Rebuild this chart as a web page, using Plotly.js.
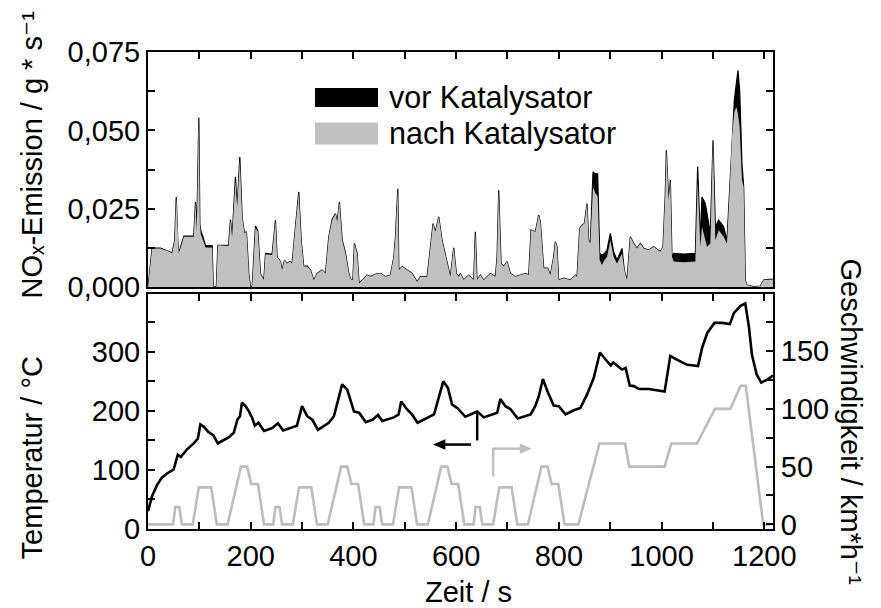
<!DOCTYPE html>
<html><head><meta charset="utf-8">
<script src="https://cdn.plot.ly/plotly-3.0.1.min.js"></script>
<style>html,body{margin:0;padding:0;background:#fff}</style>
</head><body><div id="chart" style="width:881px;height:608px"></div>
<script>
// NOx emission (g/s) before / after catalyst
const noxTime = [0,8,24,40,47,52,55,58,60,66,70,89,92.5,95,99,101,103,106,112,125,127,133,136,157,160.6,163.8,170.3,173.6,178.8,183.3,187.8,191.7,196.3,199.5,202.8,209.3,213.8,219,225.5,228.8,241.7,248.2,251.4,257.9,261.2,265.7,270.9,276.1,280.6,287.1,293.6,298.3,303.3,309.8,316.3,322.8,329.3,339.1,345.6,352,358.6,365,368.3,372.8,378,384.5,391,395.5,398.8,402,407.2,411.1,416.9,426.6,433.1,446.1,453.9,462.3,472.1,478.6,481.8,486.4,488.5,494.8,504.5,514.3,524,530.5,543.5,550,555.1,559.6,566.1,572.6,577.2,582.3,588.8,595.3,600.5,605,608.3,614.8,624.5,634.2,637.4,640.7,647.2,653.7,666.7,676.4,679.7,682.9,687.5,692.6,699.1,705.6,715.4,725.1,734.8,741.3,745.8,754.3,760.7,764,767.2,770.5,778.3,783.4,789.9,793.2,796.4,799.7,809.4,822.4,832.1,835.4,840.6,845.1,849.7,854.8,858.1,861.3,866.5,871.1,875.6,879.5,884,889,893.8,900.3,906.7,913.2,923,927.5,932.7,939.2,945.7,952.2,958.7,965.2,974.9,984.6,997.6,1002.8,1007.3,1009.3,1013.8,1017.1,1020.3,1023.6,1043,1065.8,1070.3,1075.5,1078.7,1085.2,1088.5,1095,1100.2,1104.7,1111.2,1120.9,1127.4,1132.6,1137.2,1141.7,1145.6,1148.8,1152.1,1156.6,1159.9,1163.1,1166.4,1179.4,1192.4,1198.8,1208.6,1217];
const noxNach = [0,0.0124,0.0124,0.0115,0.0108,0.015,0.0288,0.015,0.0108,0.014,0.0161,0.0161,0.0272,0.018,0.0541,0.02,0.0168,0.0155,0.0127,0.0127,0.0002,0.0002,0.0134,0.0132,0.0214,0.0161,0.034,0.0256,0.0405,0.0225,0.0172,0.0177,0.0044,0.0002,0.0002,0.019,0.0177,0.0044,0.0023,0.0105,0.0103,0.0214,0.0097,0.0082,0.0055,0.0087,0.0076,0.0082,0.0076,0.0193,0.03,0.015,0.0066,0.0066,0.0055,0.0023,0.0044,0.0055,0.0044,0.0161,0.0214,0.0235,0.0209,0.0272,0.015,0.0108,0.0044,0.0023,0.0023,0.014,0.0108,0.0012,0.0023,0.0039,0.0034,0.0044,0.0044,0.0034,0.0039,0.0097,0.016,0.0314,0.0055,0.0066,0.0055,0.0044,0.0018,0.0034,0.0034,0.014,0.0203,0.0177,0.0225,0.015,0.0119,0.0087,0.0034,0.0126,0.0044,0.0034,0.0044,0.0023,0.0039,0.0023,0.0177,0.0023,0.0039,0.0023,0.0044,0.0034,0.0097,0.0309,0.0076,0.0066,0.0082,0.0044,0.0034,0.0039,0.0044,0.0039,0.0182,0.0177,0.023,0.0209,0.0129,0.0061,0.0061,0.0039,0.0097,0.0145,0.0129,0.0023,0.0029,0.0023,0.0039,0.0034,0.0188,0.0198,0.0203,0.0267,0.015,0.014,0.032,0.03,0.029,0.0087,0.0071,0.0087,0.0097,0.015,0.0097,0.0076,0.0108,0.0055,0.0023,0.0161,0.014,0.0124,0.014,0.0124,0.0119,0.0129,0.0113,0.0129,0.0299,0.0437,0.0278,0.0342,0.0097,0.0082,0.008,0.0082,0.034,0.0129,0.0193,0.015,0.0129,0.014,0.0469,0.015,0.0182,0.0161,0.014,0.0309,0.0479,0.0559,0.0575,0.0553,0.051,0.0342,0.032,0.0023,0.0007,0.0002,0.0004,0.0023,0.0025,0.0025];
const noxVor = [0,0.0125,0.0125,0.0116,0.011,0.015,0.0288,0.015,0.011,0.0142,0.0163,0.0163,0.0272,0.018,0.0541,0.02,0.018,0.0165,0.0134,0.0132,0.0002,0.0002,0.0134,0.0134,0.0216,0.0161,0.0352,0.0256,0.0415,0.0225,0.0172,0.0177,0.0044,0.0002,0.0002,0.0195,0.018,0.0044,0.0023,0.0108,0.0106,0.0214,0.0097,0.0082,0.0055,0.0087,0.0076,0.0082,0.0076,0.0193,0.0304,0.015,0.0066,0.0068,0.0056,0.0023,0.0044,0.0055,0.0044,0.0161,0.0216,0.0235,0.0209,0.0272,0.0152,0.011,0.0044,0.0023,0.0023,0.014,0.0108,0.0012,0.0023,0.0039,0.0034,0.0044,0.0044,0.0034,0.0039,0.0097,0.016,0.0314,0.0055,0.0066,0.0055,0.0044,0.0018,0.0034,0.0034,0.014,0.0203,0.0177,0.0225,0.015,0.0119,0.0087,0.0034,0.0126,0.0044,0.0034,0.0044,0.0023,0.0039,0.0023,0.0177,0.0023,0.0039,0.0023,0.0044,0.0034,0.0097,0.0309,0.0076,0.0066,0.0082,0.0044,0.0034,0.0039,0.0044,0.0039,0.0182,0.0177,0.023,0.0209,0.0129,0.0061,0.0061,0.0039,0.0097,0.0145,0.0129,0.0023,0.0029,0.0023,0.0039,0.0034,0.0188,0.0198,0.0203,0.0267,0.015,0.014,0.0368,0.0362,0.0362,0.0108,0.0103,0.0108,0.0119,0.0172,0.0113,0.0087,0.0124,0.0055,0.0023,0.0161,0.014,0.0124,0.014,0.0124,0.0119,0.0129,0.0113,0.0129,0.0299,0.0437,0.0278,0.0342,0.0097,0.0108,0.0106,0.0108,0.0384,0.015,0.0288,0.0267,0.0235,0.0172,0.0469,0.0193,0.0214,0.0193,0.015,0.0309,0.049,0.0596,0.0649,0.0691,0.0628,0.0394,0.032,0.0023,0.0007,0.0002,0.0004,0.0023,0.0025,0.0025];

// Exhaust temperature (°C)
const tempTime = [0,8,18,27,37,50,58,64,76,89,97,102,109,118,127,136,144,157,167,174,179,183,190,196,203,208,215,226,242,253,263,277,290,300,310,320,331,352,362,368,378,388,401,411,424,437,448,456,479,488,493,505,514,525,544,557,566,575,584,592,602,618,641,654,680,686,696,706,720,745,754,761,769,778,790,800,813,829,842,855,868,880,891,901,906,913,923,930,938,946,956,975,1006,1017,1027,1050,1071,1079,1089,1103,1118,1133,1141,1154,1163,1170,1176,1185,1194,1206,1217];
const temperature = [30,56,75,87,94,101,126,122,135,145,153,177,173,164,159,145,149,155,163,185,191,214,208,200,188,175,180,166,171,179,167,171,175,208,191,185,168,180,191,211,245,236,199,197,181,185,193,183,189,194,216,202,194,180,188,194,222,250,239,211,205,190,199,189,197,220,208,203,187,194,208,225,254,233,209,208,194,201,205,228,256,299,287,277,282,277,270,273,243,242,237,237,233,293,288,278,276,307,332,349,349,347,366,378,382,343,295,262,248,253,260];

// Vehicle speed (km/h)
const speedTime = [0,49,53,61,66,87,99,123,134,155,181,193,201,214,226,
  244,248,256,261,282,294,318,329,350,376,388,396,409,421,
  439,443,451,456,477,489,513,524,545,571,583,591,604,616,
  634,638,646,651,672,684,708,719,740,766,778,786,799,811,
  838,879,929,937,1006,1019,1069,1104,1134,1154,1164,1198,1217];
const speed = [0,0,15,15,0,0,32,32,0,0,50,50,35,35,0,
  0,15,15,0,0,32,32,0,0,50,50,35,35,0,
  0,15,15,0,0,32,32,0,0,50,50,35,35,0,
  0,15,15,0,0,32,32,0,0,50,50,35,35,0,
  0,70,70,50,50,70,70,100,100,120,120,0,0];

const seriesNames = ['vor Katalysator','nach Katalysator'];

const FONT = 'Liberation Sans, Arial, DejaVu Sans, sans-serif';
const BLACK = '#000000', GREY = '#c0c0c0';
const TICKSIZE = 29;

const traces = [
  {x: noxTime, y: noxVor, type:'scatter', mode:'lines', fill:'tozeroy', fillcolor:BLACK,
   line:{color:BLACK, width:1.2}, xaxis:'x', yaxis:'y', name:seriesNames[0], showlegend:false},
  {x: noxTime, y: noxNach, type:'scatter', mode:'lines', fill:'tozeroy', fillcolor:GREY,
   line:{color:GREY, width:0}, xaxis:'x', yaxis:'y', name:seriesNames[1], showlegend:false},
  {x: tempTime, y: temperature, type:'scatter', mode:'lines', line:{color:BLACK, width:2.6},
   xaxis:'x2', yaxis:'y2', name:'Temperatur', showlegend:false},
  {x: speedTime, y: speed, type:'scatter', mode:'lines', line:{color:'#bdbdbd', width:2.6},
   xaxis:'x2', yaxis:'y3', name:'Geschwindigkeit', showlegend:false}
];

function minor(d){ return {dtick:d, ticks:'inside', ticklen:7, tickwidth:2, tickcolor:BLACK, showgrid:false}; }
const axBase = {showline:true, linecolor:BLACK, linewidth:2, ticks:'inside', ticklen:7, tickwidth:2,
  tickcolor:BLACK, showgrid:false, zeroline:false, tickmode:'linear', tick0:0,
  tickfont:{family:FONT, size:TICKSIZE, color:BLACK}};

const layout = {
  width:881, height:608, margin:{l:148, r:108, t:52, b:79},
  paper_bgcolor:'#fff', plot_bgcolor:'rgba(0,0,0,0)', showlegend:false,
  separators:',.',
  font:{family:FONT, size:29, color:BLACK},
  xaxis: Object.assign({}, axBase, {domain:[0,1], anchor:'y', side:'top', mirror:true,
    range:[0,1217], dtick:200, minor:minor(100), showticklabels:false}),
  xaxis2: Object.assign({}, axBase, {domain:[0,1], anchor:'y2', matches:'x', mirror:'ticks',
    range:[0,1217], dtick:200, minor:minor(100)}),
  yaxis: Object.assign({}, axBase, {domain:[0.5067,1], anchor:'x', mirror:'ticks',
    range:[0,0.075], dtick:0.025, tickformat:'.3f', minor:minor(0.0125)}),
  yaxis2: Object.assign({}, axBase, {domain:[0,0.4927], anchor:'x2', mirror:true,
    range:[0,398], dtick:100, minor:minor(50)}),
  yaxis3: Object.assign({}, axBase, {overlaying:'y2', side:'right', anchor:'x2',
    range:[-4,199.4], dtick:50, minor:minor(25)}),
  shapes: [
    {type:'rect', xref:'paper', yref:'paper', x0:0.2672, x1:0.368, y0:0.8847, y1:0.9245,
     fillcolor:BLACK, line:{width:0}},
    {type:'rect', xref:'paper', yref:'paper', x0:0.2672, x1:0.368, y0:0.806, y1:0.852,
     fillcolor:GREY, line:{width:0}},
    // black arrow (temperature -> left axis)
    {type:'line', xref:'x2', yref:'y2', x0:641, x1:641, y0:150, y1:199, line:{color:BLACK, width:2.5}},
    {type:'line', xref:'x2', yref:'y2', x0:629, x1:574, y0:143, y1:143, line:{color:BLACK, width:2.5}},
    {type:'path', xref:'x2', yref:'y2', path:'M 555 143 L 579 152 L 579 134 Z', fillcolor:BLACK, line:{width:0}},
    // grey arrow (speed -> right axis)
    {type:'line', xref:'x2', yref:'y2', x0:672, x1:672, y0:89, y1:137, line:{color:GREY, width:2.5}},
    {type:'line', xref:'x2', yref:'y2', x0:671, x1:727, y0:136, y1:136, line:{color:GREY, width:2.5}},
    {type:'path', xref:'x2', yref:'y2', path:'M 747 136 L 724 145 L 724 127 Z', fillcolor:GREY, line:{width:0}}
  ],
  annotations: [
    {text:'NO\u2093-Emission / g * s\u207B\u00B9', textangle:-90, xref:'paper', yref:'paper',
     x:-0.1856, y:0.785, xanchor:'center', yanchor:'middle', showarrow:false, font:{size:29}},
    {text:'Temperatur / °C', textangle:-90, xref:'paper', yref:'paper',
     x:-0.1856, y:0.148, xanchor:'center', yanchor:'middle', showarrow:false, font:{size:29}},
    {text:'Geschwindigkeit / km*h\u207B\u00B9', textangle:90, xref:'paper', yref:'paper',
     x:1.125, y:0.225, xanchor:'center', yanchor:'middle', showarrow:false, font:{size:29}},
    {text:'Zeit / s', xref:'paper', yref:'paper', x:0.512, y:-0.132,
     xanchor:'center', yanchor:'middle', showarrow:false, font:{size:29}},
    {text:seriesNames[0], xref:'paper', yref:'paper', x:0.3824, y:0.9036,
     xanchor:'left', yanchor:'middle', showarrow:false, font:{size:30.5}},
    {text:seriesNames[1], xref:'paper', yref:'paper', x:0.3824, y:0.830,
     xanchor:'left', yanchor:'middle', showarrow:false, font:{size:30.5}}
  ]
};

Plotly.newPlot('chart', traces, layout, {displayModeBar:false, staticPlot:true});
</script>
</body></html>
